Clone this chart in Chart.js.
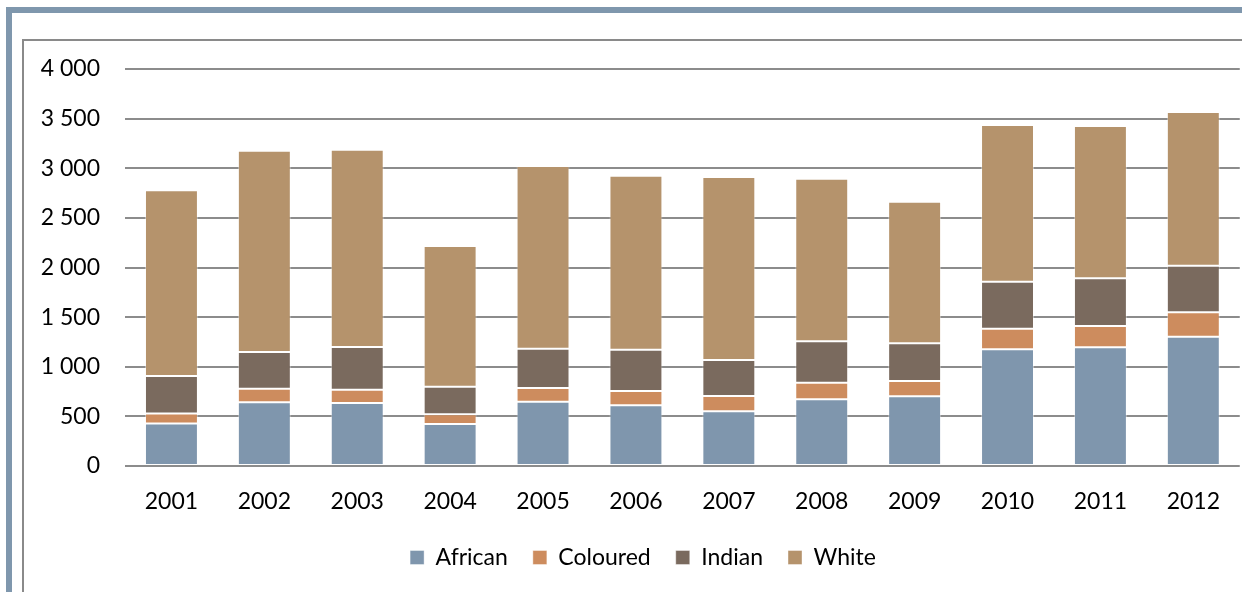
<!DOCTYPE html>
<html>
<head>
<meta charset="utf-8">
<script src="https://cdn.jsdelivr.net/npm/chart.js@4.4.1/dist/chart.umd.min.js"></script>
<style>
    html, body { margin: 0; padding: 0; background: #fff; }
    body { width: 1242px; height: 592px; position: relative; overflow: hidden; }
    .frame {
        position: absolute; left: 6px; top: 7px; width: 1230px; height: 600px;
        border-left: 6px solid #7f97ad; border-top: 6px solid #7f97ad; border-right: 6px solid #7f97ad;
    }
    .box {
        position: absolute; left: 22px; top: 39px; width: 1240px; height: 600px;
        border-left: 2px solid #8a8a8a; border-top: 2px solid #8a8a8a; background: #fff;
    }
    .wrap { position: absolute; left: 24px; top: 41px; width: 1218px; height: 551px; }
</style>
</head>
<body>
<div class="frame"></div>
<div class="box"></div>
<div class="wrap"><canvas id="chart"></canvas></div>
<script>
const years = ['2001', '2002', '2003', '2004', '2005', '2006', '2007', '2008', '2009', '2010', '2011', '2012'];
const african = [428, 642, 635, 423, 648, 611, 551, 672, 702, 1176, 1196, 1303];
const coloured = [102, 137, 134, 98, 138, 145, 154, 167, 154, 207, 215, 246];
const indian = [377, 370, 430, 278, 396, 416, 363, 417, 380, 474, 480, 469];
const white = [1871, 2028, 1988, 1418, 1841, 1753, 1844, 1639, 1427, 1579, 1535, 1549];
const yTickLabels = ['0', '500', '1 000', '1 500', '2 000', '2 500', '3 000', '3 500', '4 000'];

const font = { family: 'Lato, "Open Sans", sans-serif', size: 23 };

function series(label, data, color) {
    return {
        label: label,
        data: data,
        backgroundColor: color,
        borderColor: 'rgba(255,255,255,0.4)',
        borderWidth: 1,
        borderSkipped: false,
        categoryPercentage: 1,
        barPercentage: 0.57
    };
}

// the legend sits a little right of centre
const legendShift = {
    id: 'legendShift',
    afterLayout(chart) {
        const legend = chart.legend;
        legend.left += 10;
        legend.right += 10;
    }
};

new Chart(document.getElementById('chart'), {
    type: 'bar',
    data: {
        labels: years,
        datasets: [
            series('African', african, '#7f96ad'),
            series('Coloured', coloured, '#cd8c5e'),
            series('Indian', indian, '#7a6a5e'),
            series('White', white, '#b5936c')
        ]
    },
    plugins: [legendShift],
    options: {
        responsive: true,
        maintainAspectRatio: false,
        animation: false,
        layout: { padding: { top: 28, right: 0, left: 0, bottom: 13 } },
        scales: {
            x: {
                stacked: true,
                afterFit: function (scale) { scale.height = 55; },
                grid: { display: false, drawTicks: false },
                border: { display: false },
                ticks: { color: '#000', font: font, padding: 22, maxRotation: 0 }
            },
            y: {
                stacked: true,
                min: 0,
                max: 4000,
                afterFit: function (scale) {
                    scale.width = 101;
                    scale.paddingTop = 12;
                    scale.paddingBottom = 12;
                },
                grid: { color: '#8c8c8c', lineWidth: 2, drawTicks: false },
                border: { display: false },
                ticks: {
                    stepSize: 500,
                    color: '#000',
                    font: font,
                    padding: 25,
                    callback: function (value) { return yTickLabels[value / 500]; }
                }
            }
        },
        plugins: {
            tooltip: { enabled: false },
            legend: {
                position: 'bottom',
                labels: {
                    color: '#000',
                    font: font,
                    boxWidth: 14,
                    boxHeight: 14,
                    padding: 25
                }
            }
        }
    }
});
</script>
</body>
</html>
